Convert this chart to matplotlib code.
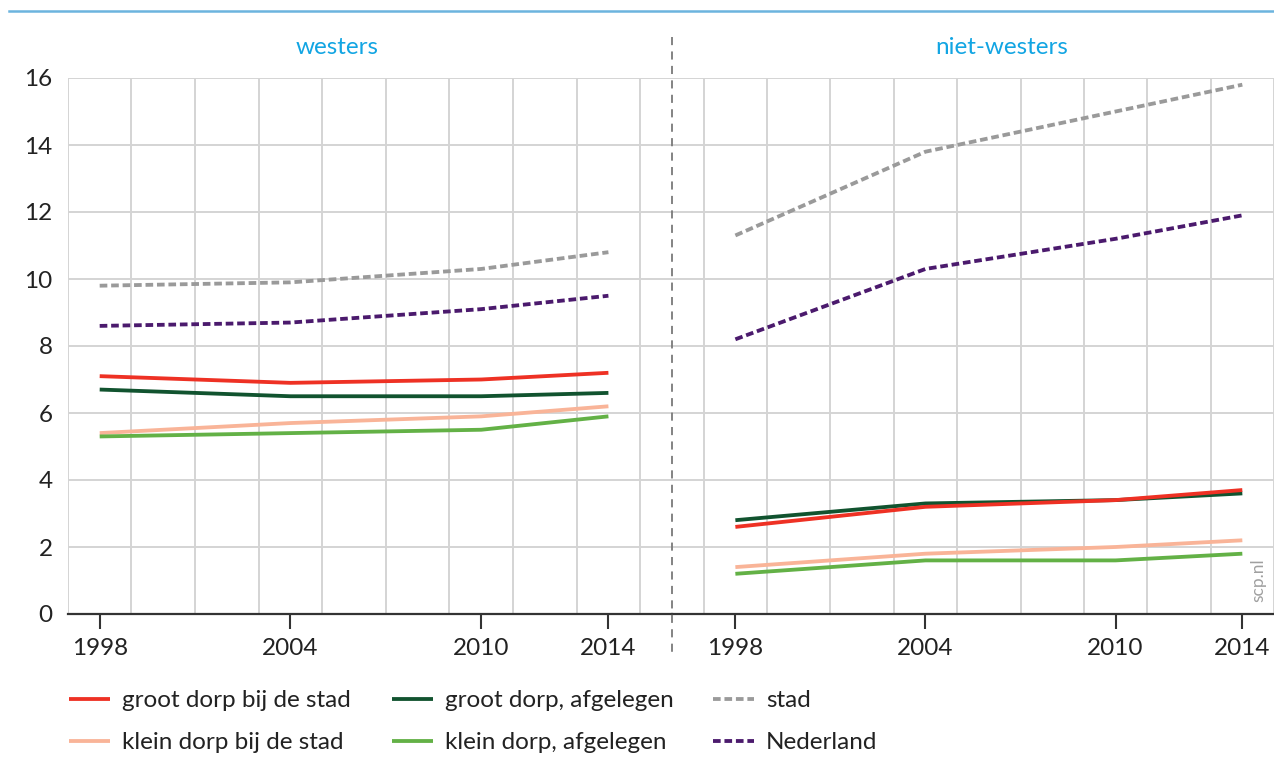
import matplotlib
matplotlib.use("Agg")
import matplotlib.pyplot as plt
from matplotlib.lines import Line2D

plt.rcParams['font.family'] = ['Lato', 'DejaVu Sans']

years = [1998, 2004, 2010, 2014]
xticks = [1998, 2004, 2010, 2014]
yticks = [0, 2, 4, 6, 8, 10, 12, 14, 16]
panels = ["westers", "niet-westers"]

series_names = ["groot dorp bij de stad", "klein dorp bij de stad",
                "groot dorp, afgelegen", "klein dorp, afgelegen",
                "stad", "Nederland"]

# westers
w_groot_stad = [7.1, 6.9, 7.0, 7.2]
w_klein_stad = [5.4, 5.7, 5.9, 6.2]
w_groot_afg = [6.7, 6.5, 6.5, 6.6]
w_klein_afg = [5.3, 5.4, 5.5, 5.9]
w_stad = [9.8, 9.9, 10.3, 10.8]
w_nl = [8.6, 8.7, 9.1, 9.5]

# niet-westers
n_groot_stad = [2.6, 3.2, 3.4, 3.7]
n_klein_stad = [1.4, 1.8, 2.0, 2.2]
n_groot_afg = [2.8, 3.3, 3.4, 3.6]
n_klein_afg = [1.2, 1.6, 1.6, 1.8]
n_stad = [11.3, 13.8, 15.0, 15.8]
n_nl = [8.2, 10.3, 11.2, 11.9]

colors = ["#ee3124", "#f9b498", "#11532f", "#63b146", "#9a9a9a", "#4b1a6d"]
styles = ["-", "-", "-", "-", (0, (2.0, 1.0)), (0, (2.0, 1.0))]

W, H = 1274, 776
FS = 17.5
fig = plt.figure(figsize=(W / 100, H / 100), dpi=100)

x0, xm, x1 = 67.9, 672, 1274
ybot, ytop = 614, 78
axL = fig.add_axes([x0 / W, 1 - ybot / H, (xm - x0) / W, (ybot - ytop) / H])
axR = fig.add_axes([xm / W, 1 - ybot / H, (x1 - xm) / W, (ybot - ytop) / H])

data = [
    [w_groot_stad, w_klein_stad, w_groot_afg, w_klein_afg, w_stad, w_nl],
    [n_groot_stad, n_klein_stad, n_groot_afg, n_klein_afg, n_stad, n_nl],
]
draw_order = [4, 5, 2, 0, 1, 3]
handles = [None] * 6
for ax, d, xl in zip([axL, axR], data, [(1997, 2016), (1996, 2015)]):
    for i in draw_order:
        ln, = ax.plot(years, d[i], color=colors[i], lw=2.75, linestyle=styles[i],
                      solid_capstyle='butt', dash_capstyle='butt', label=series_names[i], zorder=3)
        handles[i] = ln
    ax.set_xlim(*xl)
    ax.set_ylim(0, 16)
    for gx in range(1997, 2016, 2):
        ax.axvline(gx, color="#d4d4d4", lw=1.4, zorder=1)
    for gy in yticks:
        ax.axhline(gy, color="#d4d4d4", lw=1.4, zorder=1)
    ax.set_xticks(xticks)
    ax.set_xticklabels([str(t) for t in xticks])
    ax.set_yticks(yticks)
    for s in ["top", "right", "left"]:
        ax.spines[s].set_visible(False)
    ax.spines["bottom"].set_color("#333333")
    ax.spines["bottom"].set_linewidth(1.6)
    ax.spines["bottom"].set_zorder(4)
    ax.tick_params(axis="x", length=11, width=1.5, color="#333333", labelsize=FS,
                   labelcolor="#222222", pad=6)
    ax.tick_params(axis="y", length=0, labelsize=FS, labelcolor="#222222", pad=11)
    ax.set_facecolor("none")

axR.tick_params(axis="y", labelleft=False)

# panel titles
fig.text(337 / W, 1 - 47 / H, panels[0], color="#12a5e3", fontsize=FS, ha="center", va="center")
fig.text(1002 / W, 1 - 47 / H, panels[1], color="#12a5e3", fontsize=FS, ha="center", va="center")

# top blue rule
fig.add_artist(Line2D([9 / W, 1], [1 - 11 / H, 1 - 11 / H], color="#6cb4de", lw=1.8))
# dashed divider
fig.add_artist(Line2D([xm / W, xm / W], [1 - 37 / H, 1 - 656 / H], color="#7a7a7a", lw=1.3,
                      linestyle=(0, (4.5, 3.5))))

# source
fig.text(1258 / W, 1 - 580 / H, "scp.nl", rotation=90, color="#a0a0a0", fontsize=12.5,
         ha="center", va="center")

# legends: three columns of two entries
legx = [69, 391.5, 712.6]
for c in range(3):
    hs = [handles[2 * c], handles[2 * c + 1]]
    lg = fig.legend(hs, [series_names[2 * c], series_names[2 * c + 1]], loc="upper left",
                    bbox_to_anchor=(legx[c] / W, 1 - 690 / H), frameon=False, fontsize=FS,
                    handlelength=1.7, handletextpad=0.5, labelspacing=0.88,
                    borderpad=0, borderaxespad=0)
    for t in lg.get_texts():
        t.set_color("#222222")

fig.savefig("out.png", dpi=100)
